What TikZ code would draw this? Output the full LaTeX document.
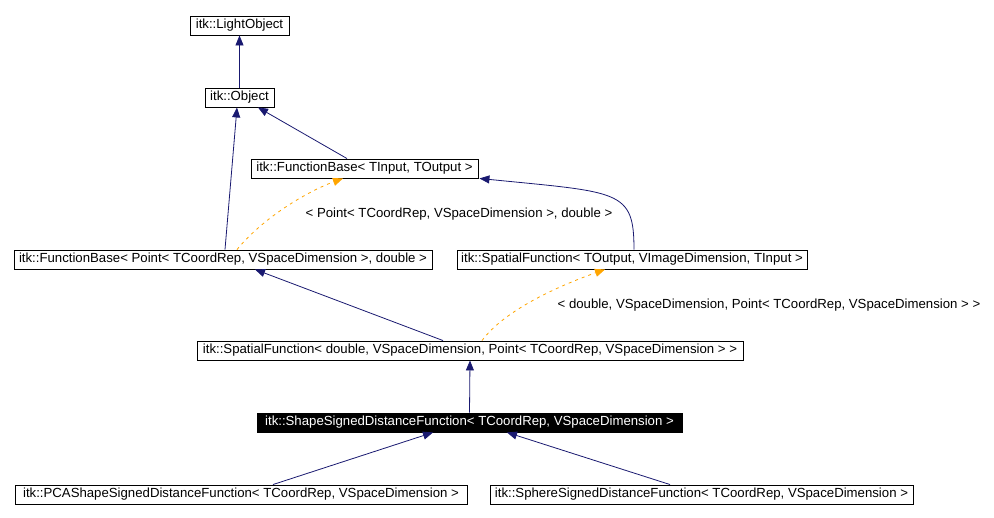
\documentclass[tikz,border=0pt]{standalone}
\usepackage{fontspec}
\setmainfont{Liberation Sans}
\usetikzlibrary{arrows.meta,calc}
\definecolor{edgeblue}{HTML}{191970}
\definecolor{edgeorange}{HTML}{FFA500}
\tikzset{
  cls/.style={draw=black, line width=0.9pt, fill=white, inner sep=0pt,
    minimum height=19pt, text height=9.6pt, text depth=2.8pt,
    font=\fontsize{13.2}{15}\selectfont},
  hl/.style={cls, fill=black, text=white},
  inh/.style={draw=edgeblue, line width=0.8pt,
    -{Triangle[length=10pt,width=8pt]}},
  tmpl/.style={draw=edgeorange, line width=0.8pt, dash pattern=on 3pt off 4pt,
    -{Triangle[length=10pt,width=8pt]}},
  lbl/.style={inner sep=0pt, font=\fontsize{13.2}{15}\selectfont}
}
\begin{document}
\begin{tikzpicture}[x=1pt,y=-1pt]
\useasboundingbox (0,0) rectangle (994,518);
\node[cls, minimum width=99pt]  (LO)  at (239.5,25.5) {itk::LightObject};
\node[cls, minimum width=69pt]  (OB)  at (239.5,97.5) {itk::Object};
\node[cls, minimum width=227pt] (FBT) at (364.5,168.5) {itk::FunctionBase< TInput, TOutput >};
\node[cls, minimum width=418pt] (FBP) at (223,259.5) {itk::FunctionBase< Point< TCoordRep, VSpaceDimension >, double >};
\node[cls, minimum width=350pt] (SFT) at (632,259.5) {itk::SpatialFunction< TOutput, VImageDimension, TInput >};
\node[cls, minimum width=546pt] (SFD) at (470,350.5) {itk::SpatialFunction< double, VSpaceDimension, Point< TCoordRep, VSpaceDimension > >};
\node[hl,  minimum width=425pt] (SSD) at (469.5,422.5) {itk::ShapeSignedDistanceFunction< TCoordRep, VSpaceDimension >};
\node[cls, minimum width=452pt] (PCA) at (241,494.5) {itk::PCAShapeSignedDistanceFunction< TCoordRep, VSpaceDimension >};
\node[cls, minimum width=423pt] (SPH) at (701.5,494.5) {itk::SphereSignedDistanceFunction< TCoordRep, VSpaceDimension >};

\node[lbl] (L1) at (459,214) {< Point< TCoordRep, VSpaceDimension >, double >};
\node[lbl] (L2) at (769,305) {< double, VSpaceDimension, Point< TCoordRep, VSpaceDimension > >};

\draw[inh] (OB.north) -- (LO.south);
\draw[inh] ([xshift=2pt]FBP.north) -- ([xshift=-2.5pt]OB.south);
\draw[inh] ([xshift=-17.5pt]FBT.north) -- ([xshift=18.5pt]OB.south);
\draw[tmpl] ([xshift=14pt]FBP.north) .. controls +(28,-34) and +(-33,12) .. ([xshift=-21.5pt]FBT.south);
\draw[inh] ([xshift=2pt]SFT.north) .. controls +(0,-60) and +(140,14) .. ([xshift=1pt]FBT.south east);
\draw[inh] ([xshift=-27pt]SFD.north) -- ([xshift=32pt]FBP.south);
\draw[tmpl] ([xshift=12pt]SFD.north) .. controls +(23,-31) and +(-45,16) .. ([xshift=-27pt]SFT.south);
\draw[inh] (SSD.north) -- (SFD.south);
\draw[inh] ([xshift=32pt]PCA.north) -- ([xshift=-36.5pt]SSD.south);
\draw[inh] ([xshift=-31.5pt]SPH.north) -- ([xshift=37.5pt]SSD.south);
\end{tikzpicture}
\end{document}
